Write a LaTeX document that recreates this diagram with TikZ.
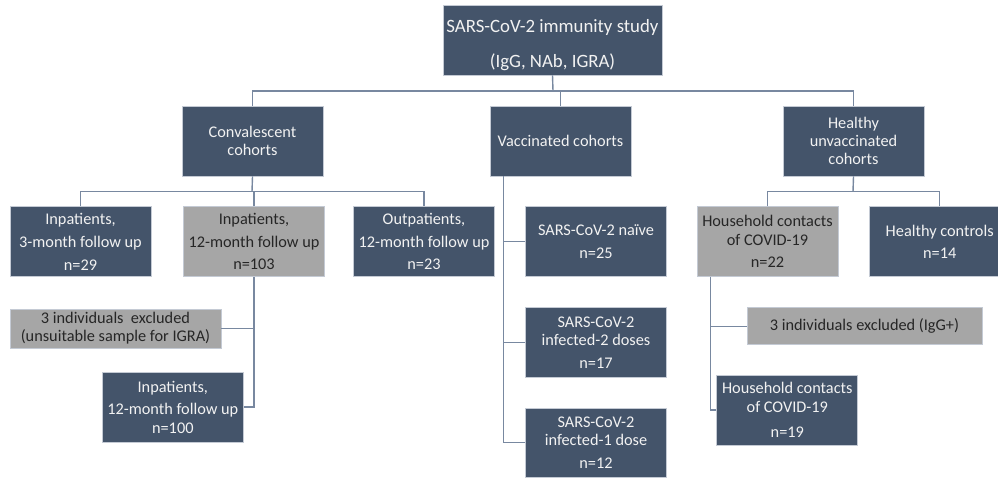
\documentclass[tikz,border=0pt]{standalone}
\usepackage{fontspec}
\setmainfont{Carlito}
\usepackage{tikz}
\usetikzlibrary{positioning}
\usepackage{xcolor}
\definecolor{cohortblue}{RGB}{68,84,106}
\definecolor{cohortgray}{RGB}{166,166,166}
\definecolor{cohortedge}{RGB}{196,202,212}
\definecolor{cohortline}{RGB}{120,136,160}
\definecolor{cohorttext}{RGB}{242,242,242}
\tikzstyle{link} = [line width=1.4pt, color=cohortline]
\tikzstyle{cohort} = [rectangle, minimum width=141pt, minimum height=70pt, inner sep=0pt, align=center, text centered, draw=cohortedge, line width=0.8pt, fill=cohortblue, text=cohorttext, font=\fontsize{16.3}{18.3}\selectfont]
\tikzstyle{excluded} = [cohort, fill=cohortgray, text=black!85]

\begin{document}
\begin{tikzpicture}[x=1pt, y=-1pt]
\useasboundingbox (0,0) rectangle (998,478);
% Study and main cohorts
\node[cohort, minimum width=219pt, label={[yshift=-5.5pt, align=center, text=cohorttext, font=\fontsize{18.8}{21}\selectfont]center:SARS-CoV-2 immunity study\\[14pt](IgG, NAb, IGRA)}] (study) at (552.5,40) {};
\node[cohort] (conv) at (252.5,141) {Convalescent\\cohorts};
\node[cohort] (vacc) at (560.5,141) {Vaccinated cohorts};
\node[cohort] (healthy) at (853.5,141) {Healthy\\unvaccinated\\cohorts};

\coordinate (busA) at (553,91);
\draw[link] (study.south) -- (busA);
\draw[link] (conv.north) |- (busA) -| (healthy.north);
\draw[link] (vacc.north) -- (vacc.north |- busA);

% Convalescent cohorts
\node[cohort] (inp3) at (80.5,241.7) {Inpatients,\\[4.4pt]3-month follow up\\[4.4pt]n=29};
\node[excluded] (inp12) at (254,241.7) {Inpatients,\\[4.4pt]12-month follow up\\[4.4pt]n=103};
\node[cohort] (outp) at (424,241.7) {Outpatients,\\[4.4pt]12-month follow up\\[4.4pt]n=23};
\node[excluded, minimum width=211pt, minimum height=39pt] (exclA) at (115.5,328.5) {3 individuals\ \ excluded\\(unsuitable sample for IGRA)};
\node[cohort] (inp100) at (172.8,407) {Inpatients,\\[4.4pt]12-month follow up\\n=100};

\coordinate (busB) at (252,191.7);
\draw[link] (conv.south) -- (busB);
\draw[link] (inp3.north) |- (busB) -| (outp.north);
\draw[link] (inp12.north) -- (inp12.north |- busB);
\draw[link] (inp12.south) |- (inp100.east);
\draw[link] (exclA.east) -- (exclA.east -| inp12.south);

% Vaccinated cohorts
\node[cohort] (naive) at (596,241.7) {SARS-CoV-2 na\"ive\\[4.4pt]n=25};
\node[cohort] (dose2) at (596,342.5) {SARS-CoV-2\\infected-2 doses\\[4.4pt]n=17};
\node[cohort, minimum height=69pt] (dose1) at (596,442.7) {SARS-CoV-2\\infected-1 dose\\[4.4pt]n=12};

\coordinate (spine) at (503.3,176);
\draw[link] (spine) |- (dose1.west);
\draw[link] (spine |- naive.west) -- (naive.west);
\draw[link] (spine |- dose2.west) -- (dose2.west);

% Healthy unvaccinated cohorts
\node[excluded] (house22) at (767.5,241.7) {Household contacts\\of COVID-19\\[4.4pt]n=22};
\node[cohort] (controls) at (939.7,241.7) {Healthy controls\\[4.4pt]n=14};
\node[excluded, minimum width=235pt, minimum height=37pt] (exclB) at (864.5,326.3) {3 individuals excluded (IgG+)};
\node[cohort] (house19) at (787.3,410) {Household contacts\\of COVID-19\\[7pt]n=19};

\coordinate (busC) at (853,191.7);
\coordinate (stem) at (710.7,276.7);
\draw[link] (healthy.south) -- (busC);
\draw[link] (house22.north) |- (busC) -| (controls.north);
\draw[link] (stem) |- (house19.west);
\draw[link] (stem |- exclB.west) -- (exclB.west);
\end{tikzpicture}
\end{document}
